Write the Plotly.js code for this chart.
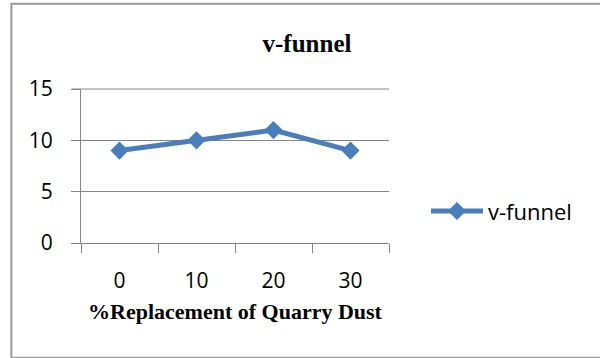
<!DOCTYPE html>
<html>
<head>
<meta charset="utf-8">
<script src="https://cdn.plot.ly/plotly-3.0.1.min.js"></script>
<style>html,body{margin:0;padding:0;background:#fff;}#chart{width:600px;height:358px;}</style>
</head>
<body>
<div id="chart"></div>
<script>
const categories = ['0', '10', '20', '30'];
const seriesName = 'v-funnel';
const vFunnel = [9, 10, 11, 9];
const yTicks = [0, 5, 10, 15];
const chartTitle = 'v-funnel';
const xTitle = '%Replacement of Quarry Dust';

const L = 80.7, R = 389, T = 89.3, B = 242.7, W = 600, H = 358;
const pw = R - L, ph = B - T;
const px = v => (v - L) / pw;
const py = v => (B - v) / ph;

const trace = {
  x: categories,
  y: vFunnel,
  type: 'scatter',
  mode: 'lines+markers',
  name: seriesName,
  line: {color: '#4A7EBB', width: 5},
  marker: {symbol: 'diamond', size: 14, color: '#4A7EBB', line: {width: 0}}
};

const layout = {
  width: W, height: H,
  margin: {l: L, r: W - R, t: T, b: H - B, pad: 0},
  paper_bgcolor: '#ffffff', plot_bgcolor: '#ffffff',
  font: {family: 'Open Sans, sans-serif', size: 21, color: '#000000'},
  title: {
    text: '<b>' + chartTitle + '</b>',
    font: {family: 'Liberation Serif, serif', size: 25, color: '#000000'},
    x: 307 / W, xanchor: 'center', xref: 'container',
    y: 1 - 43 / H, yanchor: 'middle', yref: 'container'
  },
  xaxis: {
    type: 'category',
    range: [-0.5, 3.5],
    showgrid: false,
    showline: true, linecolor: '#868686', linewidth: 1,
    ticks: 'outside', tickson: 'boundaries', ticklen: 9, tickcolor: '#868686', tickwidth: 1,
    ticklabelstandoff: 19,
    tickfont: {family: 'Open Sans, sans-serif', size: 21, color: '#000000'},
    zeroline: false,
    fixedrange: true,
    title: {
      text: '<b>' + xTitle + '</b>',
      font: {family: 'Liberation Serif, serif', size: 22, color: '#000000'},
      standoff: 10
    }
  },
  yaxis: {
    range: [0, 15],
    tickvals: yTicks,
    showgrid: true, gridcolor: '#868686', gridwidth: 1,
    showline: true, linecolor: '#868686', linewidth: 1,
    ticks: 'outside', ticklen: 9, tickcolor: '#868686', tickwidth: 1,
    ticklabelstandoff: 14,
    tickfont: {family: 'Open Sans, sans-serif', size: 21, color: '#000000'},
    zeroline: false,
    fixedrange: true
  },
  showlegend: true,
  legend: {
    x: px(426), xanchor: 'left',
    y: py(211), yanchor: 'middle',
    font: {family: 'Open Sans, sans-serif', size: 22, color: '#000000'},
    bgcolor: 'rgba(0,0,0,0)',
    itemwidth: 52
  },
  shapes: [{
    type: 'rect', xref: 'paper', yref: 'paper', layer: 'below',
    x0: px(11), x1: px(610), y0: py(357), y1: py(4.5),
    line: {color: '#9a9a9a', width: 2}, fillcolor: 'rgba(0,0,0,0)'
  }, {
    type: 'line', xref: 'paper', yref: 'paper', layer: 'below',
    x0: px(71.7), x1: 1, y0: 1, y1: 1,
    line: {color: '#868686', width: 1}
  }]
};

Plotly.newPlot('chart', [trace], layout, {displayModeBar: false, staticPlot: true});
</script>
</body>
</html>
